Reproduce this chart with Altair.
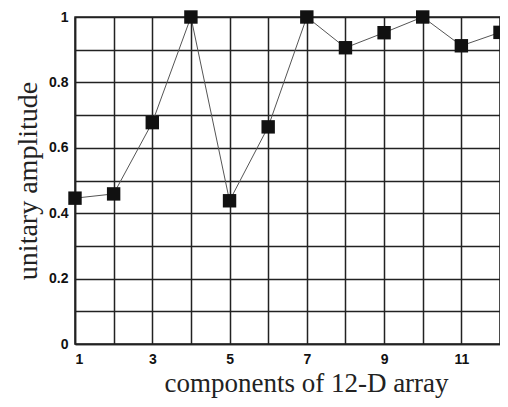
import altair as alt
import pandas as pd

components = [1, 2, 3, 4, 5, 6, 7, 8, 9, 10, 11, 12]
amplitude = [0.446, 0.459, 0.677, 1.0, 0.438, 0.664, 1.0, 0.906, 0.952, 1.0, 0.912, 0.953]
x_grid = [1, 2, 3, 4, 5, 6, 7, 8, 9, 10, 11, 12]
y_grid = [0, 0.1, 0.2, 0.3, 0.4, 0.5, 0.6, 0.7, 0.8, 0.9, 1.0]

df = pd.DataFrame({"c": components, "a": amplitude})

x = alt.X("c:Q", scale=alt.Scale(domain=[1, 12], nice=False, zero=False),
          axis=alt.Axis(values=x_grid, title="components of 12-D array",
                        labelExpr="datum.value % 2 == 1 ? datum.label : ''"))
y = alt.Y("a:Q", scale=alt.Scale(domain=[0, 1], nice=False),
          axis=alt.Axis(values=y_grid, title="unitary amplitude", format="~g",
                        labelExpr="round(datum.value*10) % 2 == 0 ? datum.label : ''"))

line = alt.Chart(df).mark_line(color="#555", strokeWidth=1, clip=False).encode(x=x, y=y)
pts = alt.Chart(df).mark_square(size=180, color="#111", opacity=1, clip=False).encode(x=x, y=y)

chart = (line + pts).properties(
    width=425, height=327,
    autosize=alt.AutoSizeParams(type="none"),
    padding={"left": 67, "top": 9, "right": 0, "bottom": 55},
).configure_axis(
    grid=True, gridColor="#222", gridWidth=1.5, gridOpacity=1,
    domainColor="#222", domainWidth=1.5,
    ticks=False, labelPadding=7,
    labelFont="Liberation Sans", labelFontWeight="bold", labelFontSize=14, labelColor="#111",
    titleFont="Liberation Serif", titleFontWeight="normal", titleFontSize=28, titleColor="#222",
).configure_axisX(titlePadding=4, labelPadding=8, titleFontSize=27, titleX=231).configure_axisY(
    titlePadding=6
).configure_view(
    stroke="#222", strokeWidth=1.5
)

chart.save("out.html", embed_options={"renderer": "svg", "actions": False})
